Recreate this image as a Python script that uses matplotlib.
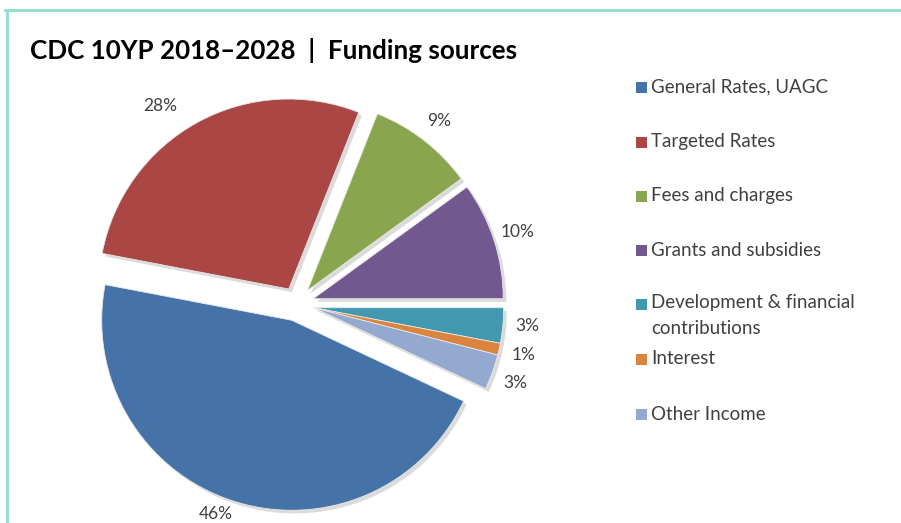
import numpy as np
import matplotlib
matplotlib.use('Agg')
import matplotlib.pyplot as plt
from matplotlib.patches import Rectangle
from matplotlib.lines import Line2D
from matplotlib.transforms import offset_copy

plt.rcParams['font.family'] = ['Lato', 'DejaVu Sans']

# 数据
labels = ['General Rates, UAGC', 'Targeted Rates', 'Fees and charges',
          'Grants and subsidies', 'Development & financial\ncontributions',
          'Interest', 'Other Income']
shares = [46, 28, 9, 10, 3, 1, 3]
colors = ['#4572A7', '#AA4643', '#89A54E', '#71588F', '#4198AF', '#DB843D', '#93A9CF']
title = 'CDC 10YP 2018\u20132028  |  Funding sources'

W, H = 901, 523
fig = plt.figure(figsize=(W / 100, H / 100), dpi=100)

# 饼图中心和半径（像素）
cx, cy, R = 297, 304, 190
x0, x1 = 40, 610
y_top, y_bot = 70, 523
ax = fig.add_axes([x0 / W, (H - y_bot) / H, (x1 - x0) / W, (y_bot - y_top) / H])

wedges, texts, autotexts = ax.pie(
    shares, colors=colors, startangle=-25.2, counterclock=False,
    explode=[0.09] * len(shares), autopct='%1.0f%%', pctdistance=1.13,
    shadow={'ox': 0.012, 'oy': -0.012, 'facecolor': '#b0b0b0',
            'edgecolor': 'none', 'alpha': 0.45},
    wedgeprops={'linewidth': 0.6, 'edgecolor': '#e8e8e8'},
    textprops={'fontsize': 12.5, 'color': '#404040'})

# 小扇区一起外移
small = [4, 5, 6]
t1 = wedges[small[-1]].theta1
t2 = wedges[small[0]].theta2
mid = np.deg2rad((t1 + t2) / 2)
for i in small:
    wedges[i].set_center((0.09 * np.cos(mid), 0.09 * np.sin(mid)))

# 大扇区标签微调（像素）
autotexts[1].set_transform(offset_copy(ax.transData, fig=fig, x=-25, y=-5, units='dots'))
autotexts[0].set_transform(offset_copy(ax.transData, fig=fig, x=-10, y=10, units='dots'))

ax.set_xlim((x0 - cx) / R, (x1 - cx) / R)
ax.set_ylim((cy - y_bot) / R, (cy - y_top) / R)
ax.set_aspect('equal', adjustable='datalim')

# 标题
fig.text(30 / W, 1 - 59 / H, title, fontsize=18.7, fontweight='bold',
         color='#000000', va='baseline', ha='left')

# 图例
leg_y = [87, 142, 196, 250, 304, 359, 414]
for lab, c, yy in zip(labels, colors, leg_y):
    fig.patches.append(Rectangle((636 / W, 1 - (yy + 6) / H), 11 / W, 11 / H,
                                 transform=fig.transFigure, facecolor=c,
                                 edgecolor='none'))
    if '\n' in lab:
        fig.text(651 / W, 1 - (yy - 10) / H, lab, fontsize=13.5, color='#404040',
                 va='top', ha='left', linespacing=1.62)
    else:
        fig.text(651 / W, 1 - yy / H, lab, fontsize=13.5, color='#404040',
                 va='center', ha='left')

# 边框
bc = '#8EDDCF'
fig.lines.append(Line2D([5 / W, 1], [1 - 9.5 / H, 1 - 9.5 / H],
                        transform=fig.transFigure, color=bc, lw=2))
fig.lines.append(Line2D([7 / W, 7 / W], [0, 1 - 9.5 / H],
                        transform=fig.transFigure, color=bc, lw=2))

fig.savefig('out.png', dpi=100)
